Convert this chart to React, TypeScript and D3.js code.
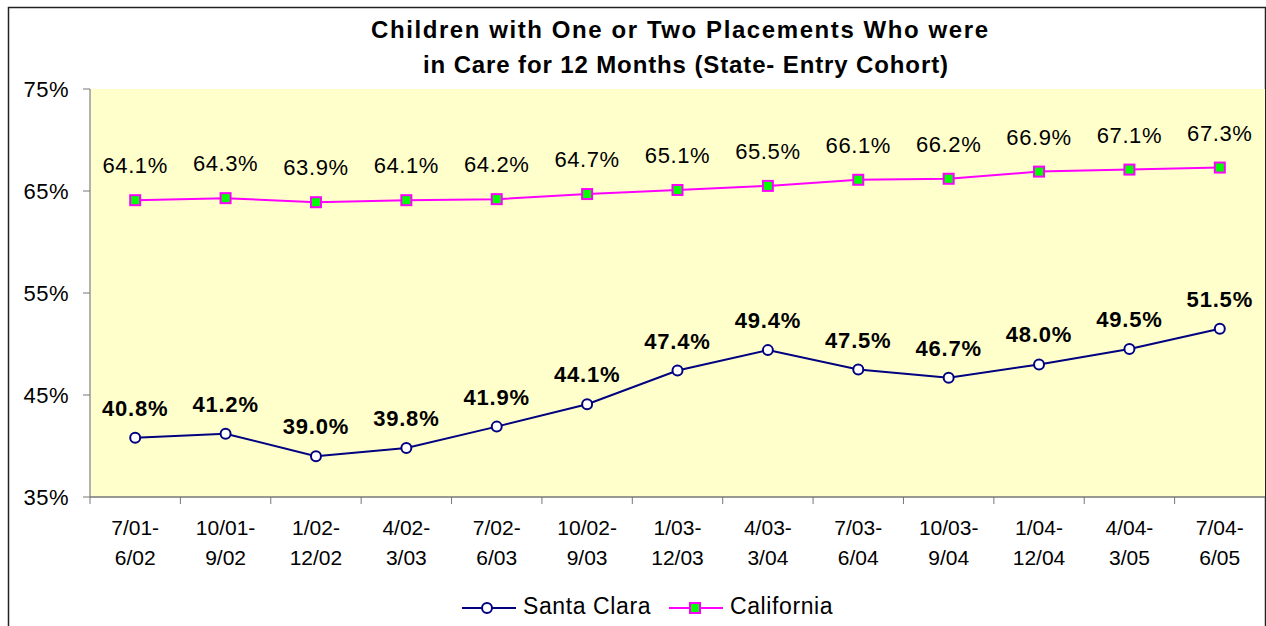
import { useEffect, useRef } from "react";
import { select, scaleLinear, scaleBand, line } from "d3";

const chartWidth = 1266;
const chartHeight = 626;

const periods = [
  ["7/01-", "6/02"],
  ["10/01-", "9/02"],
  ["1/02-", "12/02"],
  ["4/02-", "3/03"],
  ["7/02-", "6/03"],
  ["10/02-", "9/03"],
  ["1/03-", "12/03"],
  ["4/03-", "3/04"],
  ["7/03-", "6/04"],
  ["10/03-", "9/04"],
  ["1/04-", "12/04"],
  ["4/04-", "3/05"],
  ["7/04-", "6/05"],
];
const santaClara = [40.8, 41.2, 39.0, 39.8, 41.9, 44.1, 47.4, 49.4, 47.5, 46.7, 48.0, 49.5, 51.5];
const california = [64.1, 64.3, 63.9, 64.1, 64.2, 64.7, 65.1, 65.5, 66.1, 66.2, 66.9, 67.1, 67.3];
const yTicks = [35, 45, 55, 65, 75];
const titleLines = [
  "Children with One or Two Placements Who were",
  "in Care for 12 Months (State- Entry Cohort)",
];

const plotLeft = 90;
const plotRight = 1265;
const plotTop = 89;
const plotBottom = 497;
const font = "Arial, 'Liberation Sans', sans-serif";

const App = () => {
  const svgRef = useRef<SVGSVGElement | null>(null);

  useEffect(() => {
    const svg = select(svgRef.current);
    svg.selectAll("*").remove();

    const x = scaleBand<number>()
      .domain(periods.map((_, i) => i))
      .range([plotLeft, plotRight]);
    const y = scaleLinear().domain([35, 75]).range([plotBottom, plotTop]);
    const cx = (i: number) => (x(i) ?? 0) + x.bandwidth() / 2;

    // outer frame
    svg
      .append("rect")
      .attr("x", 8.5)
      .attr("y", 7.5)
      .attr("width", 1257)
      .attr("height", 640)
      .attr("fill", "white")
      .attr("stroke", "#222")
      .attr("stroke-width", 1.5);

    svg
      .append("rect")
      .attr("x", plotLeft)
      .attr("y", plotTop)
      .attr("width", plotRight - plotLeft)
      .attr("height", plotBottom - plotTop)
      .attr("fill", "#ffffcc");

    // title, stretched to the width it has in the picture
    svg
      .append("text")
      .attr("x", 371)
      .attr("y", 38)
      .attr("font-family", font)
      .attr("font-weight", "bold")
      .attr("font-size", 24)
      .attr("textLength", 617)
      .attr("lengthAdjust", "spacing")
      .text(titleLines[0]);
    svg
      .append("text")
      .attr("x", 423)
      .attr("y", 73)
      .attr("font-family", font)
      .attr("font-weight", "bold")
      .attr("font-size", 24)
      .attr("textLength", 525)
      .attr("lengthAdjust", "spacing")
      .text(titleLines[1]);

    // y axis
    svg
      .append("line")
      .attr("x1", plotLeft)
      .attr("x2", plotLeft)
      .attr("y1", plotTop)
      .attr("y2", plotBottom)
      .attr("stroke", "#999")
      .attr("stroke-width", 1.5);
    yTicks.forEach((t) => {
      svg
        .append("line")
        .attr("x1", plotLeft - 7)
        .attr("x2", plotLeft)
        .attr("y1", y(t))
        .attr("y2", y(t))
        .attr("stroke", "#777");
      svg
        .append("text")
        .attr("x", 69)
        .attr("y", y(t) + 8)
        .attr("text-anchor", "end")
        .attr("font-family", font)
        .attr("font-size", 22)
        .attr("letter-spacing", 0.5)
        .text(`${t}%`);
    });

    // x axis
    svg
      .append("line")
      .attr("x1", plotLeft)
      .attr("x2", plotRight)
      .attr("y1", plotBottom)
      .attr("y2", plotBottom)
      .attr("stroke", "#777")
      .attr("stroke-width", 1.5);
    periods.forEach((p, i) => {
      svg
        .append("line")
        .attr("x1", x(i) ?? 0)
        .attr("x2", x(i) ?? 0)
        .attr("y1", plotBottom)
        .attr("y2", plotBottom + 7)
        .attr("stroke", "#777");
      const t = svg
        .append("text")
        .attr("text-anchor", "middle")
        .attr("font-family", font)
        .attr("font-size", 21);
      t.append("tspan").attr("x", cx(i)).attr("y", 535).text(p[0]);
      t.append("tspan").attr("x", cx(i)).attr("y", 565).text(p[1]);
    });

    const lineGen = line<number>()
      .x((_, i) => cx(i))
      .y((d) => y(d));

    // California
    svg
      .append("path")
      .attr("d", lineGen(california))
      .attr("fill", "none")
      .attr("stroke", "#ff00ff")
      .attr("stroke-width", 2);
    california.forEach((v, i) => {
      svg
        .append("rect")
        .attr("x", cx(i) - 5)
        .attr("y", y(v) - 5)
        .attr("width", 10)
        .attr("height", 10)
        .attr("fill", "#00ff00")
        .attr("stroke", "#ff00ff")
        .attr("stroke-width", 2);
      svg
        .append("text")
        .attr("x", cx(i))
        .attr("y", y(v) - 27)
        .attr("text-anchor", "middle")
        .attr("font-family", font)
        .attr("font-size", 22)
        .attr("letter-spacing", 0.6)
        .text(`${v.toFixed(1)}%`);
    });

    // Santa Clara
    svg
      .append("path")
      .attr("d", lineGen(santaClara))
      .attr("fill", "none")
      .attr("stroke", "#000080")
      .attr("stroke-width", 2);
    santaClara.forEach((v, i) => {
      svg
        .append("circle")
        .attr("cx", cx(i))
        .attr("cy", y(v))
        .attr("r", 5)
        .attr("fill", "white")
        .attr("stroke", "#000080")
        .attr("stroke-width", 2);
      svg
        .append("text")
        .attr("x", cx(i))
        .attr("y", y(v) - 22)
        .attr("text-anchor", "middle")
        .attr("font-family", font)
        .attr("font-weight", "bold")
        .attr("font-size", 22)
        .attr("letter-spacing", 0.8)
        .text(`${v.toFixed(1)}%`);
    });

    // legend
    const legendY = 608;
    svg
      .append("line")
      .attr("x1", 462)
      .attr("x2", 516)
      .attr("y1", legendY)
      .attr("y2", legendY)
      .attr("stroke", "#000080")
      .attr("stroke-width", 2);
    svg
      .append("circle")
      .attr("cx", 487)
      .attr("cy", legendY)
      .attr("r", 5)
      .attr("fill", "white")
      .attr("stroke", "#000080")
      .attr("stroke-width", 2);
    svg
      .append("text")
      .attr("x", 523)
      .attr("y", legendY + 6)
      .attr("font-family", font)
      .attr("font-size", 23)
      .attr("letter-spacing", 0.6)
      .text("Santa Clara");
    svg
      .append("line")
      .attr("x1", 669)
      .attr("x2", 723)
      .attr("y1", legendY)
      .attr("y2", legendY)
      .attr("stroke", "#ff00ff")
      .attr("stroke-width", 2);
    svg
      .append("rect")
      .attr("x", 690)
      .attr("y", legendY - 5)
      .attr("width", 10)
      .attr("height", 10)
      .attr("fill", "#00ff00")
      .attr("stroke", "#ff00ff")
      .attr("stroke-width", 2);
    svg
      .append("text")
      .attr("x", 730)
      .attr("y", legendY + 6)
      .attr("font-family", font)
      .attr("font-size", 23)
      .attr("letter-spacing", 0.6)
      .text("California");
  }, []);

  return (
    <svg
      ref={svgRef}
      width={chartWidth}
      height={chartHeight}
      style={{ position: "absolute", left: 0, top: 0 }}
    />
  );
};

export default App;
